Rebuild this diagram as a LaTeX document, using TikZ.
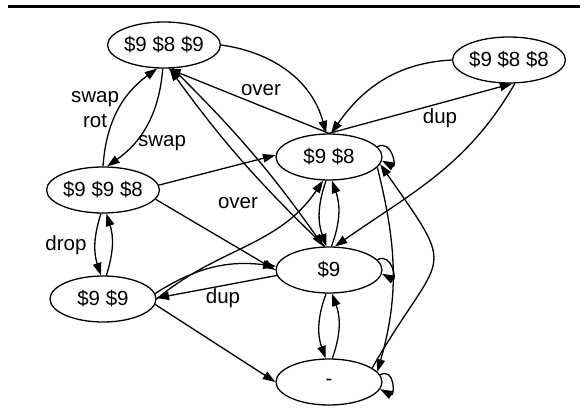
\documentclass[tikz,border=0pt]{standalone}
\usepackage{fontspec}
\setmainfont{Liberation Sans}
\usetikzlibrary{arrows.meta,shapes.geometric}
\colorlet{ink}{black}
\tikzset{
  >={Triangle[length=12.5pt,width=8.5pt]},
  arrow/.style={-{Triangle[length=12.5pt,width=8.5pt]}, draw=ink, line width=1.3pt},
  state/.style={
    ellipse,
    draw=ink,
    line width=1.3pt,
    minimum width=106pt,
    minimum height=46pt,
    inner sep=0pt,
    font=\fontsize{20.5}{24}\selectfont
  },
  lbl/.style={font=\fontsize{20.5}{25}\selectfont, align=center, inner sep=0pt},
  selfloop/.style={arrow, out=28, in=-28, min distance=17pt}
}

\begin{document}
\begin{tikzpicture}[x=1pt,y=1pt]
  \useasboundingbox (0,0) rectangle (587,-414);
  \draw[line width=3.5pt, draw=ink] (8,-6.7) -- (580,-6.7);

  \node[state] (s989) at (164,-45) {\$9 \$8 \$9};
  \node[state] (s998) at (103,-190) {\$9 \$9 \$8};
  \node[state] (s99) at (103,-299) {\$9 \$9};
  \node[state, minimum width=107pt] (s988) at (509,-60) {\$9 \$8 \$8};
  \node[state] (s98) at (329,-157) {\$9 \$8};
  \node[state] (s9) at (329,-270) {\$9};
  \node[state] (empty) at (329,-382) {-};

  % top of the stack graph
  \draw[arrow] (s998.north) to[bend left=25] (s989.-106);
  \draw[arrow] (s989.-93) to[bend left=25] (s998.80);
  \draw[arrow] (s989.east) to[out=-8, in=105] (s98.97);
  \draw[arrow] (s98.north) -- (s989.-80);
  \draw[arrow] (s988.west) to[out=183, in=55] (s98.85);
  \draw[arrow] (s98.north) -- (s988.-82);
  \draw[arrow] (s988.-76) to[out=-120, in=35] (s9.76);
  \draw[arrow] (s989.-70) to[bend left=5] (s9.103);
  \draw[arrow] (s9.100) to[bend left=5] (s989.-77);

  % left column
  \draw[arrow] (s998.5) -- (s98.178);
  \draw[arrow] (s998.-10) -- (s9.west);
  \draw[arrow] (s998.-95) to[bend right=18] (s99.95);
  \draw[arrow] (s99.82) to[bend right=18] (s998.-82);
  \draw[arrow] (s99.east) to[out=40, in=-124] (s98.-104);
  \draw[arrow] (s99.6) to[bend left=20] (s9.176);
  \draw[arrow] (s9.-174) -- (s99.1);
  \draw[arrow] (s99.-6) -- (empty.west);

  % middle column
  \draw[arrow] (s98.-97) to[bend right=20] (s9.96);
  \draw[arrow] (s9.84) to[bend right=20] (s98.-83);
  \draw[arrow] (s9.-97) to[bend right=20] (empty.98);
  \draw[arrow] (empty.82) to[bend right=20] (s9.-83);
  \draw[arrow] (s98.-12) to[out=-76, in=74] (empty.12);
  \draw[arrow] (empty.18) to[out=60, in=-55, looseness=1.75] (s98.-8);

  \draw[selfloop] (s98.12) to (s98.-4);
  \draw[selfloop] (s9.12) to (s9.-4);
  \draw[selfloop] (empty.8) to (empty.-8);

  % operation labels
  \node[lbl] (lswaprot) at (95,-110) {swap\\rot};
  \node[lbl] (lswap) at (162,-143) {swap};
  \node[lbl] (lover) at (261,-90) {over};
  \node[lbl] (lover2) at (238,-203) {over};
  \node[lbl] (ldup) at (440,-118) {dup};
  \node[lbl] (ldrop) at (66,-245) {drop};
  \node[lbl] (ldup2) at (223,-298) {dup};
\end{tikzpicture}
\end{document}
